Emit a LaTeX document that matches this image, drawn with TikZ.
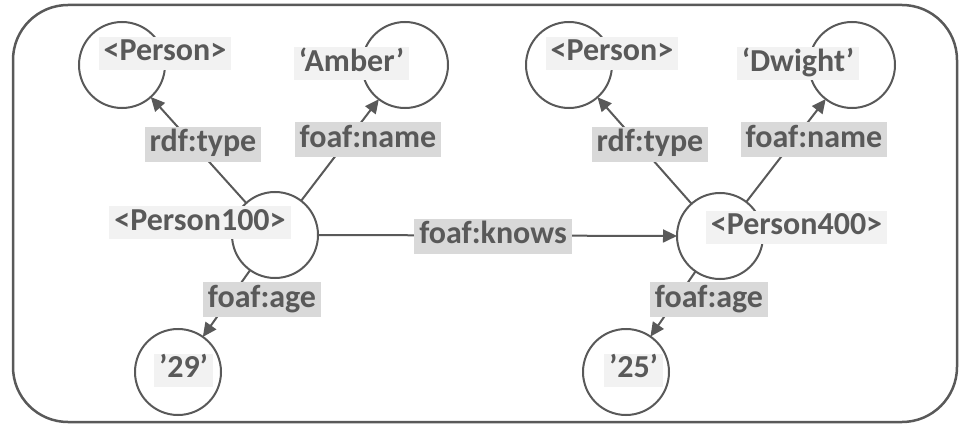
\documentclass[tikz,border=0pt]{standalone}
\usepackage{fontspec}
\setmainfont{Carlito}
\usetikzlibrary{arrows.meta}
\definecolor{ink}{HTML}{595959}
\definecolor{edgefill}{HTML}{D9D9D9}
\definecolor{namefill}{HTML}{F2F2F2}
\tikzset{
  res/.style={circle, draw=ink, line width=2pt, fill=white, minimum size=86pt, inner sep=0pt, outer sep=0pt},
  txt/.style={font=\fontsize{32}{32}\selectfont\bfseries, text=ink, inner xsep=5pt, inner ysep=2pt,
              text height=22pt, text depth=7pt},
  resname/.style={txt, fill=namefill},
  predname/.style={txt, fill=edgefill, inner ysep=3pt},
  link/.style={draw=ink, line width=2pt},
  arc/.style={link, -{Triangle[length=14pt,width=13pt]}},
  frame/.style={draw=ink, line width=2.5pt, rounded corners=55pt}
}
\begin{document}
\begin{tikzpicture}[x=1pt, y=-1pt]
  \useasboundingbox (0,0) rectangle (959,425);
  \draw[frame] (13,5) rectangle (957,422);

  % first graph
  \node[res] (pl)   at (122,65)  {};
  \node[res] (amb)  at (405,65)  {};
  \node[res] (p100) at (275,235) {};
  \node[res] (a29)  at (178,372) {};
  % second graph
  \node[res] (pr)   at (569,65)  {};
  \node[res] (dw)   at (852,65)  {};
  \node[res] (p400) at (720,236) {};
  \node[res] (a25)  at (626,372) {};

  % triples
  \draw[arc] (p100) -- (pl);
  \draw[arc] (p100) -- (amb);
  \draw[arc] (p100) -- (a29);
  \draw[arc] (p100.east) -- (p400.west);
  \draw[arc] (p400) -- (pr);
  \draw[arc] (p400) -- (dw);
  \draw[arc] (p400) -- (a25);

  % resource and literal names
  \node[resname] (tpl)   at (165,53.5)  {<Person>};
  \node[resname] (tamb)  at (351.5,64)  {‘Amber’};
  \node[resname] (tp100) at (200,222.5) {<Person100>};
  \node[resname] (t29)   at (183.5,370) {’29’};
  \node[resname] (tpr)   at (612,53.5)  {<Person>};
  \node[resname] (tdw)   at (798,64)    {‘Dwight’};
  \node[resname] (tp400) at (796.5,227) {<Person400>};
  \node[resname] (t25)   at (633.5,370) {’25’};

  % predicate names
  \node[predname] (ltype1) at (203,144.5) {rdf:type};
  \node[predname] (lname1) at (368,140)   {foaf:name};
  \node[predname] (lage1)  at (262,299.5) {foaf:age};
  \node[predname] (lknows) at (493,236)   {foaf:knows};
  \node[predname] (ltype2) at (650,144.5) {rdf:type};
  \node[predname] (lname2) at (814,140)   {foaf:name};
  \node[predname] (lage2)  at (709,299.5) {foaf:age};
\end{tikzpicture}
\end{document}
